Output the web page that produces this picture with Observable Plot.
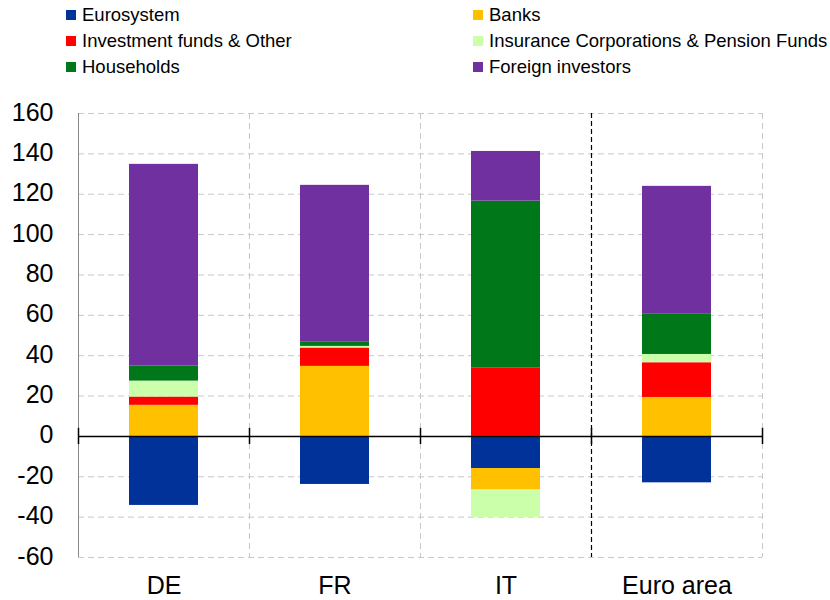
<!DOCTYPE html>
<html>
<head>
<meta charset="utf-8">
<script src="https://cdn.jsdelivr.net/npm/d3@7"></script>
<script src="https://cdn.jsdelivr.net/npm/@observablehq/plot@0.6"></script>
<style>
  body { margin: 0; background: #fff; font-family: "Liberation Sans", Arial, sans-serif; }
  #wrap { width: 830px; }
  #legend { position: relative; width: 830px; height: 85px; }
  .item { position: absolute; display: flex; align-items: center; font-size: 18.5px; color: #000; white-space: nowrap; }
  .sw { width: 10px; height: 10px; margin-right: 6px; }
</style>
</head>
<body>
<div id="wrap">
  <div id="legend"></div>
  <div id="chart"></div>
</div>
<script>
const categories = ["DE", "FR", "IT", "Euro area"];
const seriesNames = [
  "Eurosystem",
  "Banks",
  "Investment funds & Other",
  "Insurance Corporations & Pension Funds",
  "Households",
  "Foreign investors"
];
const colors = ["#003299", "#FFC000", "#FF0000", "#CCFFAA", "#00781A", "#7030A0"];

const eurosystem = [-34.2, -23.8, -15.9, -23.0];
const banks = [15.4, 34.7, -10.7, 19.3];
const investmentFunds = [4.1, 9.1, 34.0, 17.2];
const insurancePension = [7.9, 0.8, -13.7, 4.1];
const households = [7.4, 2.3, 82.6, 19.9];
const foreignInvestors = [100.0, 77.5, 24.6, 63.4];

const yTicks = [-60, -40, -20, 0, 20, 40, 60, 80, 100, 120, 140, 160];

const seriesValues = [eurosystem, banks, investmentFunds, insurancePension, households, foreignInvestors];
const rows = [];
seriesNames.forEach((s, i) => {
  categories.forEach((c, j) => rows.push({category: c, series: s, value: seriesValues[i][j]}));
});

// Legend
const legendPos = [
  [66, 15], [473, 15],
  [66, 41], [473, 41],
  [66, 67], [473, 67]
];
const legend = document.getElementById("legend");
seriesNames.forEach((name, k) => {
  const d = document.createElement("div");
  d.className = "item";
  d.style.left = legendPos[k][0] + "px";
  d.style.top = (legendPos[k][1] - 11) + "px";
  d.style.height = "22px";
  d.innerHTML = `<span class="sw" style="background:${colors[k]}"></span><span>${name}</span>`;
  legend.appendChild(d);
});

const W = 830, H = 515;
const mL = 78, mR = 68, mT = 28, mB = 43;
const bw = (W - mL - mR) / categories.length;

const chart = Plot.plot({
  width: W,
  height: H,
  marginLeft: mL,
  marginRight: mR,
  marginTop: mT,
  marginBottom: mB,
  style: {fontFamily: "'Liberation Sans', Arial, sans-serif", background: "#fff", color: "#000"},
  x: {domain: categories, padding: 0, label: null},
  y: {domain: [-60, 160], label: null},
  color: {domain: seriesNames, range: colors},
  marks: [
    Plot.gridY(yTicks, {stroke: "#c8c8c8", strokeOpacity: 1, strokeDasharray: "6,4", strokeWidth: 1}),
    // vertical separators (light dashed)
    Plot.ruleX(categories.slice(1, 3), {x: d => d, dx: -bw / 2, stroke: "#c8c8c8", strokeDasharray: "6,4"}),
    Plot.ruleX(categories.slice(3), {x: d => d, dx: bw / 2, stroke: "#c8c8c8", strokeDasharray: "6,4"}),
    // black dashed separator before Euro area
    Plot.ruleX(categories.slice(3), {x: d => d, dx: -bw / 2, stroke: "#000", strokeDasharray: "5,3", strokeWidth: 1.2}),
    Plot.barY(rows, Plot.stackY({
      x: "category",
      y: "value",
      fill: "series",
      order: seriesNames,
      insetLeft: 51,
      insetRight: 51
    })),
    // left axis line
    Plot.ruleX(categories.slice(0, 1), {x: d => d, dx: -bw / 2, stroke: "#888", strokeWidth: 1}),
    // zero line
    Plot.ruleY([0], {stroke: "#000", strokeWidth: 1.5}),
    // tick marks on zero line
    Plot.ruleX(categories, {x: d => d, dx: -bw / 2, y1: -4, y2: 4, stroke: "#000", strokeWidth: 1.5}),
    Plot.ruleX(categories.slice(3), {x: d => d, dx: bw / 2, y1: -4, y2: 4, stroke: "#000", strokeWidth: 1.5}),
    Plot.axisY({ticks: yTicks, tickSize: 0, tickPadding: 25, fontSize: 25, dy: -1, tickFormat: d => String(d)}),
    Plot.axisX({tickSize: 0, tickPadding: 19, fontSize: 25})
  ]
});
document.getElementById("chart").appendChild(chart);
</script>
</body>
</html>
